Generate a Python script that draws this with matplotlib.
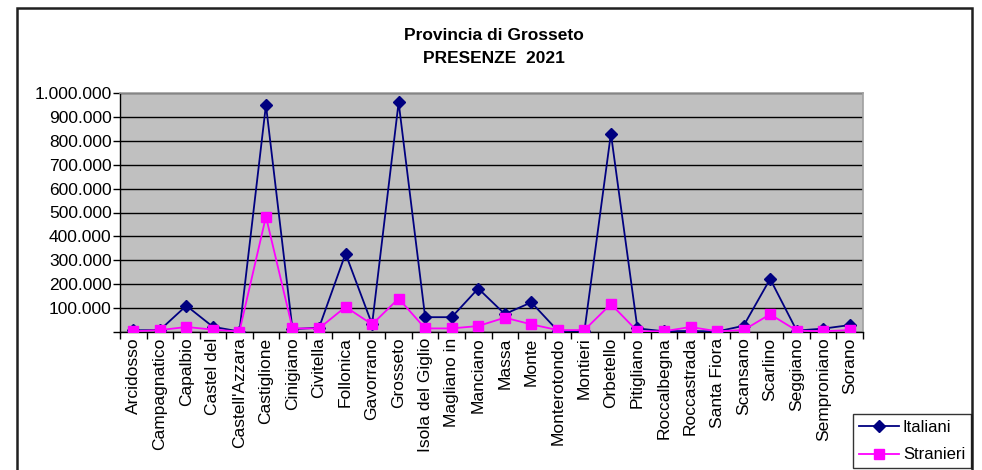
import matplotlib
matplotlib.use("Agg")
import matplotlib.pyplot as plt
from matplotlib.patches import Rectangle
from matplotlib.ticker import FuncFormatter, MultipleLocator, FixedLocator

plt.rcParams['font.family'] = ['Liberation Sans', 'DejaVu Sans']

comuni = ["Arcidosso", "Campagnatico", "Capalbio", "Castel del", "Castell'Azzara",
          "Castiglione", "Cinigiano", "Civitella", "Follonica", "Gavorrano",
          "Grosseto", "Isola del Giglio", "Magliano in", "Manciano", "Massa",
          "Monte", "Monterotondo", "Montieri", "Orbetello", "Pitigliano",
          "Roccalbegna", "Roccastrada", "Santa Fiora", "Scansano", "Scarlino",
          "Seggiano", "Semproniano", "Sorano"]

italiani = [7000, 8000, 110000, 22000, 2000,
            950000, 12000, 18000, 328000, 32000,
            961000, 62000, 62000, 182000, 75000,
            124000, 5000, 3000, 830000, 15000,
            3000, 4000, 2000, 26000, 222000,
            6000, 14000, 29000]

stranieri = [3000, 8000, 21000, 10000, 2000,
             483000, 15000, 15000, 105000, 32000,
             140000, 15000, 15000, 25000, 60000,
             32000, 8000, 8000, 117000, 3000,
             3000, 21000, 3000, 8000, 74000,
             6000, 3000, 8000]

title_text = "Provincia di Grosseto\nPRESENZE  2021"

W, H = 982, 470
fig = plt.figure(figsize=(W / 100, H / 100), dpi=100)

# outer frame
fig.patches.append(Rectangle((17 / W, -0.05), (972 - 17) / W, 1.05 - 8 / H,
                             transform=fig.transFigure, fill=False,
                             edgecolor='#202020', linewidth=1.8, zorder=0))

left, right, top, bottom = 120, 863, 93, 332
ax = fig.add_axes([left / W, 1 - bottom / H, (right - left) / W, (bottom - top) / H])
ax.set_facecolor('#C0C0C0')

x = list(range(len(comuni)))
ax.plot(x, italiani, color='#000080', marker='D', markersize=6.5, linewidth=1.3,
        label='Italiani', zorder=3)
ax.plot(x, stranieri, color='#FF00FF', marker='s', markersize=7.5, linewidth=1.3,
        label='Stranieri', zorder=4)

ax.set_xlim(-0.5, len(comuni) - 0.5)
ax.set_ylim(0, 1000000)
ax.yaxis.set_major_locator(MultipleLocator(100000))

def fmt(v, pos):
    if v == 0:
        return ""
    return f"{int(v):,}".replace(",", ".")

ax.yaxis.set_major_formatter(FuncFormatter(fmt))
ax.grid(axis='y', color='black', linewidth=1.0, zorder=1)
ax.set_axisbelow(True)

ax.set_xticks(x)
ax.set_xticklabels(comuni, rotation=90, fontsize=12.5)
ax.tick_params(axis='x', which='major', length=0, pad=4)
ax.xaxis.set_minor_locator(FixedLocator([i - 0.5 for i in range(len(comuni) + 1)]))
ax.tick_params(axis='x', which='minor', length=5, width=1, direction='out')
ax.tick_params(axis='y', labelsize=12.5, length=5, width=1, direction='out', pad=1)

for s in ['top', 'right']:
    ax.spines[s].set_color('#A0A0A0')
    ax.spines[s].set_linewidth(1.2)
for s in ['left', 'bottom']:
    ax.spines[s].set_color('black')
    ax.spines[s].set_linewidth(1.0)

fig.text(494 / W, 1 - 47 / H, title_text, ha='center', va='center',
         fontsize=12.5, fontweight='bold', linespacing=1.6)

leg = fig.legend(loc='upper left', bbox_to_anchor=(853 / W, 1 - 414 / H),
                 fontsize=12, frameon=True, fancybox=False, edgecolor='black',
                 borderpad=0.35, labelspacing=0.75, handlelength=2.4,
                 handletextpad=0.25, borderaxespad=0)
leg.get_frame().set_linewidth(1.0)

fig.savefig("out.png", dpi=100)
